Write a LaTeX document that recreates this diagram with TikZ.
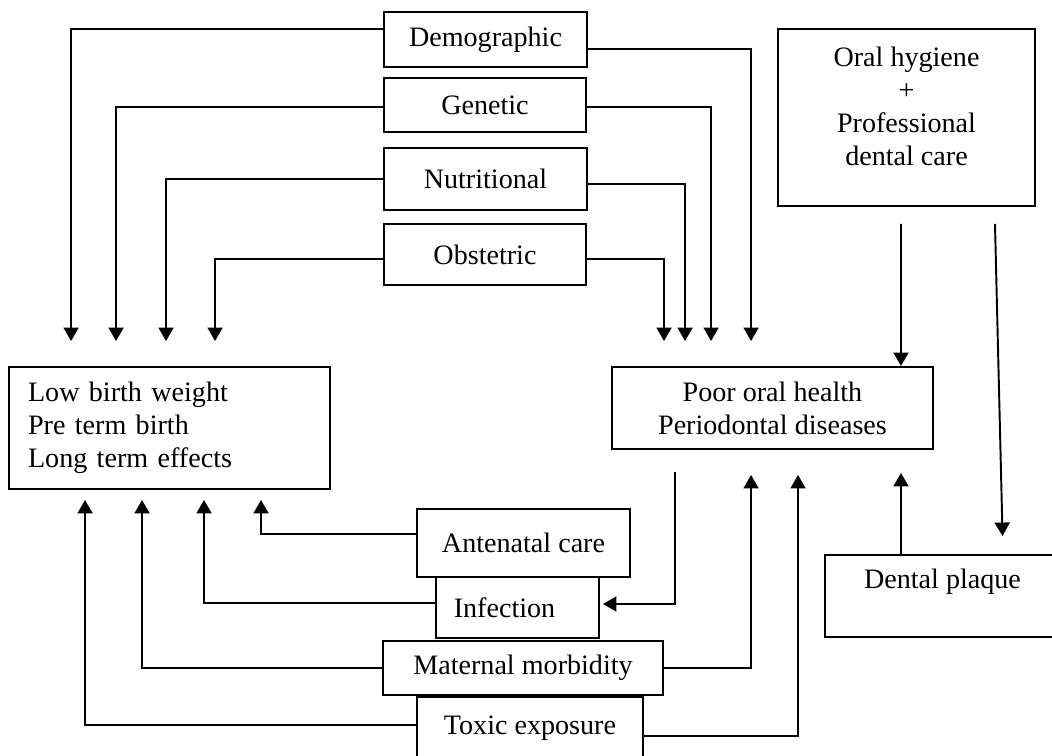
\documentclass[tikz,border=0pt]{standalone}
\usepackage{fontspec}
\setmainfont{Liberation Serif}
\usetikzlibrary{arrows.meta}

\tikzset{
  box/.style={draw, line width=1.1pt, inner sep=0pt, font=\fontsize{16}{18.8}\selectfont},
  lbl/.style={font=\fontsize{16}{18.8}\selectfont, align=center},
  arr/.style={line width=1.1pt, -{Triangle[length=0.27cm, width=0.3cm]}}
}

\begin{document}
\begin{tikzpicture}[x=0.02cm, y=-0.02cm]
\useasboundingbox (0,0) rectangle (1052,756);

% Risk factors on top
\node[box, minimum width=4.06cm, minimum height=1.10cm] (demo) at (485.5,39.5) {Demographic};
\node[box, minimum width=4.04cm, minimum height=1.08cm] (genetic) at (485,105) {Genetic};
\node[box, minimum width=4.06cm, minimum height=1.24cm] (nutri) at (485.5,179) {Nutritional};
\node[box, minimum width=4.04cm, minimum height=1.22cm] (obst) at (485,254.5) {Obstetric};

% Oral hygiene box
\node[box, minimum width=5.14cm, minimum height=3.54cm,
  label={[lbl, yshift=0.23cm]center:{Oral hygiene\\+\\Professional\\dental care}}] (hyg) at (906.5,117.5) {};

% Outcomes
\node[box, text width=5.66cm, inner xsep=0.38cm, align=left, minimum height=2.44cm] (lbw) at (169.5,428)
  {Low birth weight\\Pre term birth\\Long term effects};
\node[box, align=center, minimum width=6.42cm, minimum height=1.64cm] (poh) at (772.5,408)
  {Poor oral health\\Periodontal diseases};

% Factors below
\node[box, minimum width=4.26cm, minimum height=1.36cm] (ante) at (523.5,543) {Antenatal care};
\node[box, minimum width=3.26cm, minimum height=1.22cm,
  label={[lbl, xshift=-0.26cm]center:Infection}] (infec) at (517.5,607.5) {};
\node[box, minimum width=5.60cm, minimum height=1.08cm] (mat) at (523,668) {Maternal morbidity};
\node[box, minimum width=4.52cm, minimum height=1.26cm] (toxic) at (530,728.5) {Toxic exposure};
\node[box, minimum width=4.70cm, minimum height=1.64cm,
  label={[lbl, yshift=0.28cm]center:Dental plaque}] (plaque) at (942.5,596) {};

% Top factors to birth outcomes
\draw[arr, shorten >=0.5cm] ([yshift=0.21cm]demo.west) -| ([xshift=1.26cm]lbw.north west);
\draw[arr, shorten >=0.5cm] ([yshift=-0.04cm]genetic.west) -| ([xshift=2.16cm]lbw.north west);
\draw[arr, shorten >=0.5cm] (nutri.west) -| ([xshift=3.16cm]lbw.north west);
\draw[arr, shorten >=0.5cm] ([yshift=-0.09cm]obst.west) -| ([xshift=4.14cm]lbw.north west);

% Top factors to oral health
\draw[arr, shorten >=0.5cm] ([yshift=-0.19cm]demo.east) -| ([xshift=2.80cm]poh.north west);
\draw[arr, shorten >=0.5cm] ([yshift=-0.04cm]genetic.east) -| ([xshift=2.00cm]poh.north west);
\draw[arr, shorten >=0.5cm] ([yshift=-0.10cm]nutri.east) -| ([xshift=1.48cm]poh.north west);
\draw[arr, shorten >=0.5cm] ([yshift=-0.09cm]obst.east) -| ([xshift=1.06cm]poh.north west);

% Bottom factors to birth outcomes
\draw[arr, shorten >=0.2cm] ([yshift=0.18cm]ante.west) -| ([xshift=5.06cm]lbw.south west);
\draw[arr, shorten >=0.2cm] ([yshift=0.09cm]infec.west) -| ([xshift=3.92cm]lbw.south west);
\draw[arr, shorten >=0.2cm] (mat.west) -| ([xshift=2.68cm]lbw.south west);
\draw[arr, shorten >=0.2cm] ([yshift=0.07cm]toxic.west) -| ([xshift=1.54cm]lbw.south west);

% Bottom factors to oral health
\draw[arr, shorten >=0.5cm] (mat.east) -| ([xshift=2.80cm]poh.south west);
\draw[arr, shorten >=0.5cm] ([yshift=-0.15cm]toxic.east) -| ([xshift=3.74cm]poh.south west);

% Oral health to infection
\draw[arr, shorten >=0.06cm] ([xshift=1.28cm, yshift=-0.44cm]poh.south west) |- ([yshift=0.07cm]infec.east);

% Hygiene and plaque
\draw[arr] ([xshift=-0.11cm, yshift=-0.34cm]hyg.south) -- ([xshift=2.57cm]poh.north);
\draw[arr, shorten >=0.36cm] ([xshift=1.77cm, yshift=-0.34cm]hyg.south) -- ([xshift=1.21cm]plaque.north);
\draw[arr, shorten >=0.46cm] ([xshift=-0.83cm]plaque.north) -- ([xshift=2.57cm]poh.south);

\end{tikzpicture}
\end{document}
